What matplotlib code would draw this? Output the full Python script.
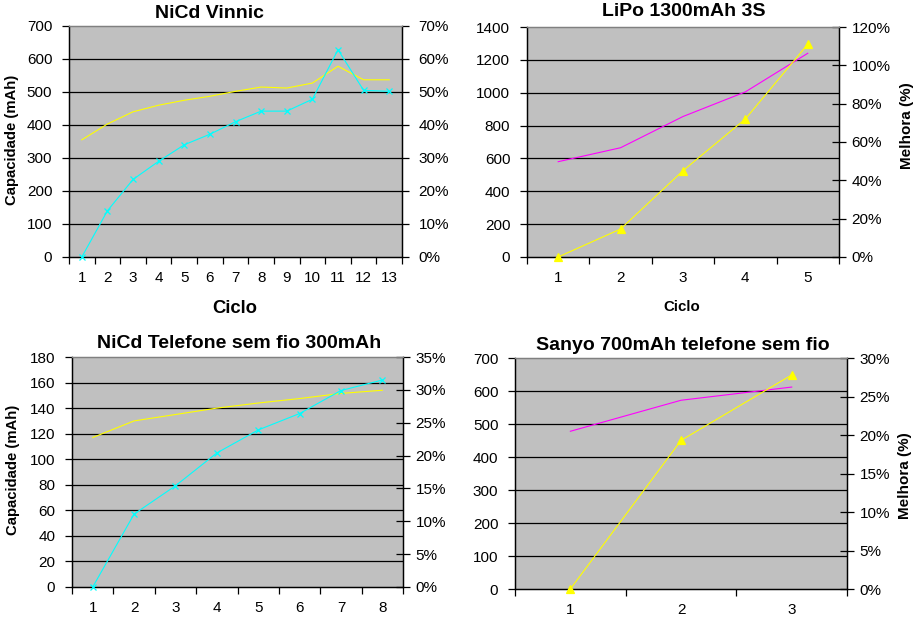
import matplotlib
matplotlib.use('Agg')
import matplotlib.pyplot as plt
import numpy as np

plt.rcParams['font.family'] = ['Liberation Sans', 'DejaVu Sans']

# NiCd Vinnic
vinnic_ciclo = list(range(1, 14))
vinnic_cap = [355, 403, 440, 460, 475, 487, 502, 515, 512, 527, 578, 537, 537]
vinnic_melhora = [0, 14, 23.5, 29, 34, 37.2, 41, 44.2, 44.2, 47.8, 62.8, 50.5, 50.2]

# LiPo 1300mAh 3S
lipo_ciclo = [1, 2, 3, 4, 5]
lipo_cap = [580, 665, 855, 1005, 1240]
lipo_melhora = [0, 14.6, 45, 72, 111]

# NiCd Telefone sem fio 300mAh
tel_ciclo = list(range(1, 9))
tel_cap = [117, 130, 135, 140, 144, 147.5, 151.5, 154]
tel_melhora = [0, 11.1, 15.4, 20.4, 23.9, 26.4, 29.9, 31.5]

# Sanyo 700mAh telefone sem fio
sanyo_ciclo = [1, 2, 3]
sanyo_cap = [478, 572, 612]
sanyo_melhora = [0, 19.3, 27.8]

CINZA = '#c0c0c0'
AMARELO = '#ffff00'
CIANO = '#00ffff'
MAGENTA = '#ff00ff'

fig = plt.figure(figsize=(9.2, 6.28), dpi=100)


def montar(rect, ciclos, cap, melhora, ymax, ystep, pmax, pstep,
           cor_cap, cor_mel, marcador, msize, dir_dir):
    ax = fig.add_axes(rect)
    ax.set_facecolor(CINZA)
    n = len(ciclos)
    ax.set_xlim(0.5, n + 0.5)
    ax.set_ylim(0, ymax)
    ax.set_yticks(np.arange(0, ymax + 1, ystep))
    # linhas de grade pretas (a do topo fica com a borda cinza)
    for v in np.arange(ystep, ymax, ystep):
        ax.axhline(v, color='black', lw=0.9, zorder=1)
    ax.set_xticks(np.arange(0.5, n + 1, 1))
    ax.set_xticklabels([])
    ax.set_xticks(ciclos, minor=True)
    ax.set_xticklabels([str(c) for c in ciclos], minor=True)
    ax.tick_params(axis='x', which='major', direction='out', length=5, width=0.9)
    ax.tick_params(axis='x', which='minor', length=0, pad=10, labelsize=11)
    ax.tick_params(axis='y', direction='out', length=5, width=0.9, pad=7,
                   labelsize=11)
    ax.plot(ciclos, cap, color=cor_cap, lw=0.8, zorder=3)

    ax2 = ax.twinx()
    ax2.set_ylim(0, pmax)
    ax2.set_yticks(np.arange(0, pmax + 0.01, pstep))
    ax2.set_yticklabels(['%d%%' % v for v in np.arange(0, pmax + 0.01, pstep)])
    if dir_dir == 'inout':
        ax2.tick_params(axis='y', direction='inout', length=10, width=0.9,
                        pad=4, labelsize=11)
    else:
        ax2.tick_params(axis='y', direction='out', length=5, width=0.9,
                        pad=7, labelsize=11)
    ax2.plot(ciclos, melhora, color=cor_mel, lw=0.8, marker=marcador,
             ms=msize, mew=0.9, clip_on=False, zorder=4)

    for a in (ax, ax2):
        for s in a.spines.values():
            s.set_linewidth(0.9)
            s.set_color('black')
        a.spines['top'].set_color('#808080')
    return ax, ax2


montar([0.075, 0.5908, 0.362, 0.3678], vinnic_ciclo, vinnic_cap, vinnic_melhora,
       700, 100, 70, 10, AMARELO, CIANO, 'x', 4, 'out')
montar([0.5728, 0.5908, 0.3391, 0.3662], lipo_ciclo, lipo_cap, lipo_melhora,
       1400, 200, 120, 20, MAGENTA, AMARELO, '^', 6, 'inout')
montar([0.0783, 0.0653, 0.3598, 0.3662], tel_ciclo, tel_cap, tel_melhora,
       180, 20, 35, 5, AMARELO, CIANO, 'x', 4, 'inout')
montar([0.5598, 0.0621, 0.3609, 0.3678], sanyo_ciclo, sanyo_cap, sanyo_melhora,
       700, 100, 30, 5, MAGENTA, AMARELO, '^', 6, 'inout')

W, H = 920, 628


def txt(x, y, s, **kw):
    fig.text(x / W, 1 - y / H, s, ha='center', va='center', **kw)


txt(210, 13, 'NiCd Vinnic', fontsize=14, fontweight='bold')
txt(684, 12, 'LiPo 1300mAh 3S', fontsize=14, fontweight='bold')
txt(239, 344, 'NiCd Telefone sem fio 300mAh', fontsize=14, fontweight='bold')
txt(683, 346, 'Sanyo 700mAh telefone sem fio', fontsize=14, fontweight='bold')

txt(12, 140, 'Capacidade (mAh)', fontsize=10.7, fontweight='bold', rotation=90)
txt(13, 470, 'Capacidade (mAh)', fontsize=10.7, fontweight='bold', rotation=90)
txt(907, 126, 'Melhora (%)', fontsize=11, fontweight='bold', rotation=90)
txt(905, 476, 'Melhora (%)', fontsize=11, fontweight='bold', rotation=90)

txt(235, 309, 'Ciclo', fontsize=13.3, fontweight='bold')
txt(682, 307, 'Ciclo', fontsize=10.8, fontweight='bold')

fig.savefig('out.png', dpi=100)
